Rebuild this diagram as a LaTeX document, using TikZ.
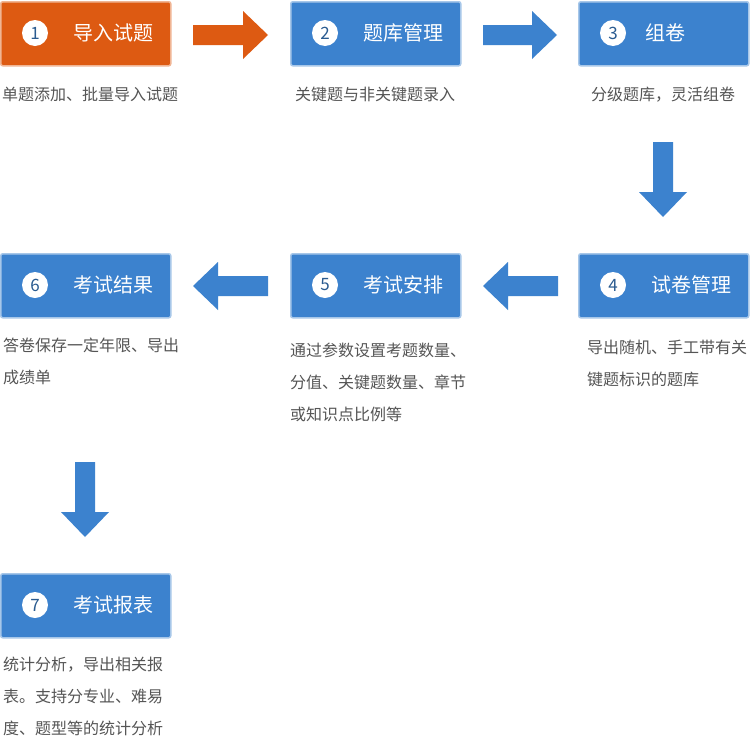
\documentclass[tikz,border=0pt]{standalone}
\usepackage{fontspec}
\setmainfont{Noto Sans CJK SC}
\usetikzlibrary{calc}
\definecolor{org}{HTML}{DD5A12}
\definecolor{blu}{HTML}{3C82CE}
\definecolor{txt}{HTML}{555555}
\tikzset{x=1pt,y=-1pt,
 box/.style={draw=#1!45!white,line width=1.5pt,fill=#1,rounded corners=2pt,minimum width=170pt,minimum height=64pt,anchor=north west,inner sep=0pt},
 num/.style={circle,fill=white,minimum size=26pt,inner sep=0pt,text=blu!70!black,font=\fontsize{17}{17}\selectfont},
 ttl/.style={text=white,font=\fontsize{20}{20}\selectfont},
 desc/.style={text=txt,font=\fontsize{16}{32}\selectfont,align=left,anchor=north west,inner sep=0pt}}
\begin{document}
\begin{tikzpicture}
\fill[white] (0,0) rectangle (750,750);
\useasboundingbox (0,0) rectangle (750,750);
\newcommand\mkbox[6]{%
 \node[box=#4] (b#1) at (#2,#3) {};
 \node[num] (n#1) at ($(#2,#3)+(35,32)$) {#1};
 \node[ttl] (t#1) at ($(#2,#3)+(#6,32)$) {#5};}
\mkbox{1}{0}{1}{org}{导入试题}{113}
\mkbox{2}{290}{1}{blu}{题库管理}{113}
\mkbox{3}{578}{1}{blu}{组卷}{87}
\mkbox{4}{578}{253}{blu}{试卷管理}{113}
\mkbox{5}{290}{253}{blu}{考试安排}{113}
\mkbox{6}{0}{253}{blu}{考试结果}{113}
\mkbox{7}{0}{573}{blu}{考试报表}{113}
\newcommand\harrow[4]{%
 \fill[#4] (#1,#3-10) -- (#2-25,#3-10) -- (#2-25,#3-24) -- (#2,#3) -- (#2-25,#3+24) -- (#2-25,#3+10) -- (#1,#3+10) -- cycle;}
\newcommand\larrow[4]{%
 \fill[#4] (#1,#3-10) -- (#2+25,#3-10) -- (#2+25,#3-24) -- (#2,#3) -- (#2+25,#3+24) -- (#2+25,#3+10) -- (#1,#3+10) -- cycle;}
\newcommand\darrow[4]{%
 \fill[#4] (#3-10,#1) -- (#3-10,#2-25) -- (#3-24,#2-25) -- (#3,#2) -- (#3+24,#2-25) -- (#3+10,#2-25) -- (#3+10,#1) -- cycle;}
\harrow{193}{268}{35}{org}
\harrow{483}{557}{35}{blu}
\darrow{142}{217}{663}{blu}
\larrow{558}{483}{286}{blu}
\larrow{268}{193}{286}{blu}
\darrow{462}{537}{85}{blu}
\node[desc] (d1) at (2,87) {单题添加、批量导入试题};
\node[desc,anchor=north] (d2) at (375,87) {关键题与非关键题录入};
\node[desc,anchor=north] (d3) at (663,87) {分级题库，灵活组卷};
\node[desc] (d4) at (587,340) {导出随机、手工带有关\\键题标识的题库};
\node[desc] (d5) at (290,343) {通过参数设置考题数量、\\分值、关键题数量、章节\\或知识点比例等};
\node[desc] (d6) at (3,338) {答卷保存一定年限、导出\\成绩单};
\node[desc] (d7) at (3,657) {统计分析，导出相关报\\表。支持分专业、难易\\度、题型等的统计分析};
\end{tikzpicture}
\end{document}
